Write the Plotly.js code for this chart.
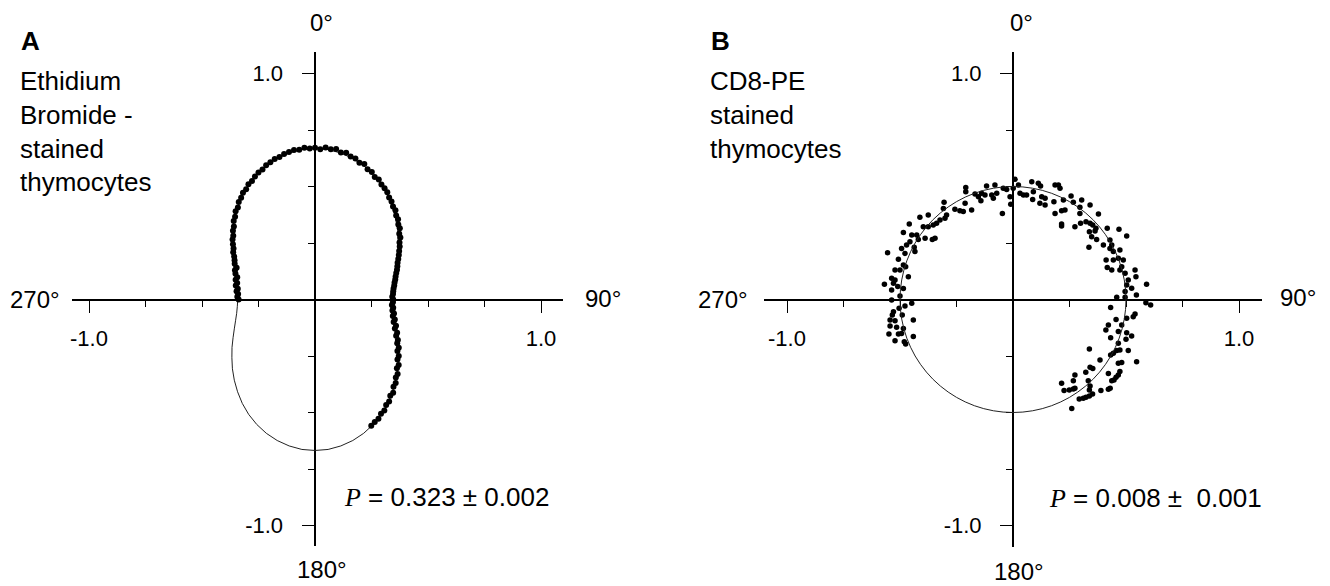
<!DOCTYPE html>
<html><head><meta charset="utf-8">
<script src="https://cdn.plot.ly/plotly-3.0.1.min.js"></script>
<style>html,body{margin:0;padding:0;background:#fff}</style>
</head><body><div id="chart" style="width:1330px;height:586px"></div>
<script>
// ---------- DATA ----------
// Fit curve angles (degrees, clockwise from 0 at top)
const fitTheta = [0,5,10,15,20,25,30,35,40,45,50,55,60,65,70,75,80,85,90,95,100,105,110,115,120,125,130,135,140,145,150,155,160,165,170,175,180,
  185,190,195,200,205,210,215,220,225,230,235,240,245,250,255,260,265,270,275,280,285,290,295,300,305,310,315,320,325,330,335,340,345,350,355,360];
// Panel A fit (P = 0.323)
const fitRA = [.668,.666,.658,.646,.630,.610,.587,.561,.533,.505,.477,.449,.424,.400,.380,.364,.352,.345,.342,.345,.352,.364,.380,.400,.424,.449,.477,.505,.533,.561,.587,.610,.630,.646,.658,.666,.668,
  .666,.658,.646,.630,.610,.587,.561,.533,.505,.477,.449,.424,.400,.380,.364,.352,.345,.342,.345,.352,.364,.380,.400,.424,.449,.477,.505,.533,.561,.587,.610,.630,.646,.658,.666,.668];
// Panel B fit (P = 0.008, nearly circular)
const fitRB = [.5,.5,.5,.5,.5,.5,.5,.5,.5,.5,.5,.5,.5,.5,.5,.5,.5,.5,.5,.5,.5,.5,.5,.5,.5,.5,.5,.5,.5,.5,.5,.5,.5,.5,.5,.5,.5,
  .5,.5,.5,.5,.5,.5,.5,.5,.5,.5,.5,.5,.5,.5,.5,.5,.5,.5,.5,.5,.5,.5,.5,.5,.5,.5,.5,.5,.5,.5,.5,.5,.5,.5,.5,.5];

// Panel A measured points (angle in degrees, normalized intensity)
const thetaA = [-90,-88,-86,-84,-82,-80,-78,-76,-74,-72,-70,-68,-66,-64,-62,-60,-58,-56,-54,-52,-50,-48,-46,-44,-42,-40,-38,-36,-34,-32,-30,-28,-26,-24,-22,-20,-18,-16,-14,-12,-10,-8,-6,-4,-2,
  0,2,4,6,8,10,12,14,16,18,20,22,24,26,28,30,32,34,36,38,40,42,44,46,48,50,52,54,56,58,60,62,64,66,68,70,72,74,76,78,80,82,84,86,88,90,
  92,94,96,98,100,102,104,106,108,110,112,114,116,118,120,122,124,126,128,130,132,134,136,138,140,142,144,146,148,150,152,154,156];
const rA = [.338,.344,.341,.349,.345,.356,.352,.362,.358,.370,.377,.374,.389,.396,.405,.418,.425,.438,.451,.459,.474,.483,.500,.509,.525,.531,.548,.556,.570,.575,.589,.594,.606,.615,.620,.632,.639,.647,.650,.658,.663,.668,.666,.673,.668,
  .671,.665,.674,.669,.672,.660,.664,.652,.649,.636,.638,.621,.618,.603,.601,.588,.581,.572,.558,.550,.537,.532,.517,.511,.496,.490,.473,.467,.451,.442,.430,.420,.410,.400,.393,.386,.378,.371,.366,.360,.356,.351,.348,.346,.342,.346,
  .345,.341,.348,.346,.355,.352,.364,.362,.377,.376,.392,.393,.408,.412,.428,.430,.447,.451,.470,.473,.492,.497,.514,.519,.538,.541,.558,.563,.579,.584,.598,.603,.612];

// Panel B measured points (x = horizontal component, y = vertical component)
const xB = [-0.209,-0.209,-0.117,-0.080,-0.043,-0.013,-0.168,-0.153,-0.139,-0.124,-0.094,-0.087,-0.072,-0.305,-0.308,-0.257,-0.235,-0.220,-0.212,-0.183,-0.142,-0.047,-0.412,-0.375,-0.397,-0.375,-0.353,-0.338,-0.323,-0.301,-0.294,-0.345,-0.357,-0.389,-0.419,-0.459,-0.485,-0.448,-0.426,-0.456,-0.471,-0.493,-0.437,-0.434,-0.555,-0.478,-0.507,-0.522,-0.500,-0.485,-0.475,-0.537,-0.522,-0.463,-0.569,-0.510,-0.485,-0.537,-0.500,-0.028,-0.010,-0.529,
  0.009,0.001,0.024,0.031,0.046,0.060,0.083,0.090,0.087,0.112,0.122,0.127,0.142,0.119,0.142,0.186,0.201,0.208,0.181,0.223,0.257,0.267,0.304,0.341,0.296,0.296,0.230,0.215,0.186,0.215,0.215,0.274,0.299,0.323,0.341,0.353,0.367,0.363,0.338,0.348,0.370,0.378,0.417,0.469,0.503,0.429,0.437,0.429,0.444,0.473,0.336,0.400,0.412,0.444,0.466,0.488,0.417,0.437,0.473,0.481,0.496,0.510,0.540,0.544,0.503,0.525,0.496,0.591,0.459,0.496,0.546,
  0.588,0.609,0.432,0.540,0.532,0.503,0.456,0.481,0.422,0.411,0.466,0.503,0.525,0.432,0.500,0.466,0.473,0.459,0.510,0.338,0.444,0.432,0.385,0.547,0.466,0.481,0.341,0.353,0.322,0.473,0.422,0.274,0.466,0.456,0.447,0.333,0.437,0.267,0.215,0.226,0.249,0.267,0.274,0.341,0.338,0.389,0.422,0.430,0.352,0.338,0.323,0.311,0.293,0.260,
  -0.537,-0.448,-0.478,-0.504,-0.529,-0.534,-0.490,-0.544,-0.522,-0.441,-0.544,-0.515,-0.485,-0.549,-0.507,-0.493,-0.441,-0.522,-0.481,-0.475];
const yB = [0.496,0.477,0.502,0.507,0.492,0.455,0.467,0.455,0.470,0.462,0.462,0.448,0.470,0.430,0.403,0.399,0.393,0.389,0.426,0.396,0.437,0.381,0.364,0.374,0.322,0.322,0.330,0.337,0.352,0.359,0.374,0.271,0.266,0.271,0.266,0.334,0.296,0.285,0.285,0.256,0.241,0.226,0.231,0.212,0.207,0.204,0.178,0.131,0.131,0.153,0.145,0.094,0.086,0.101,0.067,0.057,0.049,0.042,0.015,0.487,0.421,0.072,
  0.532,0.492,0.507,0.470,0.462,0.462,0.521,0.477,0.443,0.514,0.502,0.455,0.448,0.426,0.418,0.507,0.507,0.492,0.433,0.440,0.458,0.430,0.440,0.418,0.408,0.381,0.396,0.393,0.381,0.334,0.325,0.322,0.337,0.344,0.337,0.330,0.315,0.303,0.300,0.278,0.266,0.378,0.315,0.311,0.281,0.263,0.241,0.226,0.212,0.219,0.231,0.241,0.175,0.175,0.182,0.175,0.142,0.131,0.131,0.145,0.116,0.086,0.131,0.101,0.064,0.050,0.035,0.068,0.010,0.010,0.020,
  -0.014,-0.024,-0.035,-0.064,-0.076,-0.083,-0.088,-0.113,-0.113,-0.135,-0.142,-0.147,-0.162,-0.169,-0.176,-0.194,-0.223,-0.226,-0.226,-0.219,-0.238,-0.246,-0.268,-0.275,-0.282,-0.279,-0.300,-0.305,-0.322,-0.319,-0.327,-0.334,-0.334,-0.344,-0.356,-0.359,-0.359,-0.359,-0.371,-0.403,-0.400,-0.396,-0.393,-0.383,-0.400,-0.403,-0.397,-0.393,-0.418,-0.427,-0.433,-0.437,-0.440,-0.482,
  -0.002,-0.017,-0.029,-0.039,-0.054,-0.069,-0.069,-0.091,-0.094,-0.091,-0.117,-0.123,-0.128,-0.153,-0.153,-0.150,-0.164,-0.182,-0.187,-0.197];

// Axis ticks and labels
const majorTicks = [-1, 1];
const majorTickText = ['-1.0', '1.0'];
const minorTicks = [-0.75, -0.5, -0.25, 0.25, 0.5, 0.75];
const angleLabels = ['0°', '90°', '180°', '270°'];
const panelLetters = ['A', 'B'];
const panelTexts = ['Ethidium<br>Bromide -<br>stained<br>thymocytes', 'CD8-PE<br>stained<br>thymocytes'];
const pTexts = ['<span style="font-family:Liberation Serif"><i>P</i></span> = 0.323 ± 0.002',
                '<span style="font-family:Liberation Serif"><i>P</i></span> = 0.008 ±  0.001'];

// ---------- LAYOUT ----------
const W = 1330, H = 586, U = 226, CY = 299.5;
const FONT = 'Liberation Sans, Arial, Helvetica, sans-serif';
const GA = {cx: 315, vx: 314.5, left: 72, right: 563, top: 52, bottom: 546};
const GB = {cx: 1013, vx: 1013, left: 764, right: 1262, top: 52, bottom: 547};
const fx = p => p / W;
const fy = p => 1 - p / H;

function common() {
  return {
    showline: true, linecolor: 'black', linewidth: 2,
    ticks: 'outside', ticklen: 12, tickwidth: 1, tickcolor: 'black',
    tickmode: 'array', tickvals: majorTicks, ticktext: majorTickText,
    minor: {tickmode: 'array', tickvals: minorTicks, ticks: 'outside', ticklen: 6, tickwidth: 1, tickcolor: 'black', showgrid: false},
    showgrid: false, zeroline: false, fixedrange: true,
    tickfont: {family: FONT, size: 22, color: 'black'}
  };
}
function xAx(g) {
  return Object.assign(common(), {
    domain: [fx(g.left), fx(g.right)],
    range: [(g.left - g.cx) / U, (g.right - g.cx) / U],
    anchor: 'free', position: fy(CY), ticklabelstandoff: 7
  });
}
function yAx(g) {
  return Object.assign(common(), {
    domain: [fy(g.bottom), fy(g.top)],
    range: [(CY - g.bottom) / U, (CY - g.top) / U],
    anchor: 'free', position: fx(g.vx), ticklabelstandoff: 14
  });
}
function polarLayout(g) {
  const R = 240;
  return {
    domain: {x: [fx(g.cx - R), fx(g.cx + R)], y: [fy(CY + R), fy(CY - R)]},
    bgcolor: 'rgba(0,0,0,0)',
    radialaxis: {range: [0, R / U], showline: false, showgrid: false, showticklabels: false, ticks: ''},
    angularaxis: {rotation: 90, direction: 'clockwise', showline: false, showgrid: false, showticklabels: false, ticks: ''}
  };
}

const traces = [
  {type: 'scatter', x: [], y: [], xaxis: 'x', yaxis: 'y', showlegend: false, hoverinfo: 'skip'},
  {type: 'scatterpolar', subplot: 'polar', theta: fitTheta, r: fitRA, mode: 'lines',
   line: {color: '#222', width: 1}, showlegend: false, hoverinfo: 'skip'},
  {type: 'scatterpolar', subplot: 'polar', theta: thetaA, r: rA, mode: 'markers',
   marker: {color: 'black', size: 6}, showlegend: false},
  {type: 'scatterpolar', subplot: 'polar2', theta: fitTheta, r: fitRB, mode: 'lines',
   line: {color: '#222', width: 1}, showlegend: false, hoverinfo: 'skip'},
  {type: 'scatter', x: xB, y: yB, xaxis: 'x2', yaxis: 'y2', mode: 'markers',
   marker: {color: 'black', size: 5.5}, showlegend: false}
];

function ann(text, x, y, xa, ya, size, extra) {
  return Object.assign({text: text, x: fx(x), y: fy(y), xref: 'paper', yref: 'paper',
    xanchor: xa, yanchor: ya, showarrow: false, align: 'left', borderpad: 0,
    font: {family: FONT, size: size, color: 'black'}}, extra || {});
}

const annotations = [
  // Panel A
  ann(angleLabels[0], 309, 22, 'left', 'middle', 24),
  ann(angleLabels[1], 584, 298, 'left', 'middle', 24),
  ann(angleLabels[2], 322, 569, 'center', 'middle', 24),
  ann(angleLabels[3], 61, 299, 'right', 'middle', 24),
  ann('<b>' + panelLetters[0] + '</b>', 20, 41, 'left', 'middle', 26),
  ann(panelTexts[0], 19, 65, 'left', 'top', 26),
  ann(pTexts[0], 343, 497, 'left', 'middle', 26),
  // Panel B
  ann(angleLabels[0], 1009, 22, 'left', 'middle', 24),
  ann(angleLabels[1], 1279, 297, 'left', 'middle', 24),
  ann(angleLabels[2], 1019, 571, 'center', 'middle', 24),
  ann(angleLabels[3], 749, 299, 'right', 'middle', 24),
  ann('<b>' + panelLetters[1] + '</b>', 710, 41, 'left', 'middle', 26),
  ann(panelTexts[1], 709, 65, 'left', 'top', 26),
  ann(pTexts[1], 1048, 498, 'left', 'middle', 26)
];

const layout = {
  width: W, height: H,
  margin: {l: 0, r: 0, t: 0, b: 0},
  paper_bgcolor: 'white', plot_bgcolor: 'rgba(0,0,0,0)',
  showlegend: false,
  xaxis: xAx(GA), yaxis: yAx(GA),
  xaxis2: xAx(GB), yaxis2: yAx(GB),
  polar: polarLayout(GA), polar2: polarLayout(GB),
  annotations: annotations,
  font: {family: FONT, color: 'black'}
};

Plotly.newPlot('chart', traces, layout, {displayModeBar: false, staticPlot: true});
</script></body></html>
